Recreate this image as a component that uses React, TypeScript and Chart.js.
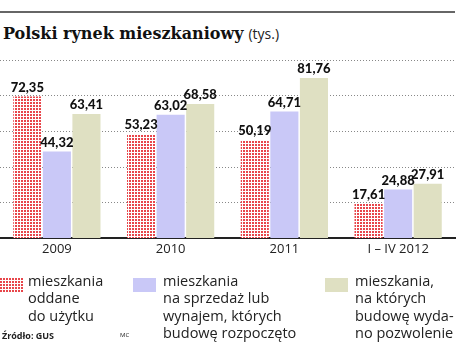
import React, { useEffect, useRef } from "react";
import { Chart, registerables } from "chart.js";

Chart.register(...registerables);

const categories = ["2009", "2010", "2011", "I – IV 2012"];
const completed = [72.35, 53.23, 50.19, 17.61];
const started = [44.32, 63.02, 64.71, 24.88];
const permitted = [63.41, 68.58, 81.76, 27.91];
const gridTicks = [0, 18.2, 36.4, 54.6, 72.8, 91];
const seriesLabels = [
  ["mieszkania", "oddane", "do użytku"],
  ["mieszkania", "na sprzedaż lub", "wynajem, których", "budowę rozpoczęto"],
  ["mieszkania,", "na których", "budowę wyda-", "no pozwolenie"],
];

const RED = "#e8464b";
const BLUE = "#c9c8f7";
const GREEN = "#dfe0c2";

function makeDots(): CanvasPattern | string {
  const c = document.createElement("canvas");
  c.width = 3;
  c.height = 3;
  const g = c.getContext("2d");
  if (!g) return RED;
  g.fillStyle = "#ffffff";
  g.fillRect(0, 0, 3, 3);
  g.fillStyle = RED;
  g.fillRect(0, 0, 2, 2);
  return g.createPattern(c, "repeat") || RED;
}

const fmt = (v: number) => v.toFixed(2).replace(".", ",");

// Writes each bar's value just above it.
const valueLabels = {
  id: "valueLabels",
  afterDatasetsDraw(chart: any) {
    const ctx = chart.ctx;
    ctx.save();
    ctx.font = "900 13px Lato, 'Open Sans', sans-serif";
    ctx.fillStyle = "#111";
    ctx.textAlign = "center";
    ctx.textBaseline = "alphabetic";
    chart.data.datasets.forEach((ds: any, i: number) => {
      const meta = chart.getDatasetMeta(i);
      meta.data.forEach((bar: any, j: number) => {
        ctx.fillText(fmt(ds.data[j]), bar.x, bar.y - 5);
      });
    });
    ctx.restore();
  },
};

export default function App() {
  const ref = useRef<HTMLCanvasElement>(null);
  const legendRefs = useRef<(HTMLCanvasElement | null)[]>([]);

  useEffect(() => {
    document.body.style.margin = "0";
    const dots = makeDots();
    const fills = [dots, BLUE, GREEN];
    legendRefs.current.forEach((c, i) => {
      if (!c) return;
      const g = c.getContext("2d");
      if (!g) return;
      g.fillStyle = fills[i] as any;
      g.fillRect(0, 0, c.width, c.height);
    });
    const chart = new Chart(ref.current as HTMLCanvasElement, {
      type: "bar",
      data: {
        labels: categories,
        datasets: [
          { data: completed, backgroundColor: dots as any },
          { data: started, backgroundColor: BLUE },
          { data: permitted, backgroundColor: GREEN },
        ],
      },
      options: {
        animation: false,
        responsive: false,
        devicePixelRatio: 1,
        layout: { padding: { top: 60, left: 0, right: 3, bottom: 82 } },
        datasets: {
          bar: { categoryPercentage: 0.78, barPercentage: 0.95 },
        },
        plugins: {
          legend: { display: false },
          tooltip: { enabled: false },
          title: { display: false },
        },
        scales: {
          x: {
            grid: { display: false, drawTicks: false },
            border: { display: true, color: "#222", width: 2 },
            ticks: {
              color: "#222",
              padding: 3,
              font: { family: "'Open Sans', sans-serif", size: 13 },
            },
          },
          y: {
            min: 0,
            max: 91,
            afterBuildTicks: (axis: any) => {
              axis.ticks = gridTicks.map((v) => ({ value: v }));
            },
            grid: {
              color: "#888",
              lineWidth: 1,
              drawTicks: false,
            },
            border: { display: false, dash: [1, 2] },
            ticks: { display: false },
          },
        },
      },
      plugins: [valueLabels],
    });
    return () => chart.destroy();
  }, []);

  const legendLeft = [0, 133, 325];
  const textLeft = [28, 163, 355];

  return (
    <div
      style={{
        position: "fixed",
        left: 0,
        top: 0,
        width: 458,
        height: 342,
        background: "#fff",
        overflow: "hidden",
        fontFamily: "'Open Sans', sans-serif",
        color: "#222",
      }}
    >
      <div
        style={{
          position: "absolute",
          left: 0,
          top: 11,
          width: 455,
          height: 2,
          background: "#666",
        }}
      />
      <div
        style={{
          position: "absolute",
          left: 3,
          top: 22,
          whiteSpace: "nowrap",
          lineHeight: "22px",
        }}
      >
        <span
          style={{
            fontFamily: "'DejaVu Serif', serif",
            fontWeight: "bold",
            fontSize: 16,
            color: "#111",
          }}
        >
          Polski rynek mieszkaniowy
        </span>
        <span style={{ fontSize: 14, marginLeft: 5, color: "#222" }}>(tys.)</span>
      </div>
      <canvas
        ref={ref}
        width={458}
        height={342}
        style={{ position: "absolute", left: 0, top: 0 }}
      />
      {seriesLabels.map((lines, i) => (
        <React.Fragment key={i}>
          <canvas
            ref={(el) => {
              legendRefs.current[i] = el;
            }}
            width={23}
            height={14}
            style={{ position: "absolute", left: legendLeft[i], top: 278 }}
          />
          <div
            style={{
              position: "absolute",
              left: textLeft[i],
              top: 272,
              fontSize: 14.5,
              lineHeight: "17.3px",
              whiteSpace: "nowrap",
            }}
          >
            {lines.map((l, k) => (
              <div key={k}>{l}</div>
            ))}
          </div>
        </React.Fragment>
      ))}
      <div
        style={{
          position: "absolute",
          left: 2,
          top: 329,
          fontSize: 9,
          fontWeight: "bold",
          whiteSpace: "nowrap",
        }}
      >
        Źródło: GUS
      </div>
      <div
        style={{
          position: "absolute",
          left: 120,
          top: 331,
          fontSize: 6,
          whiteSpace: "nowrap",
        }}
      >
        MC
      </div>
    </div>
  );
}
